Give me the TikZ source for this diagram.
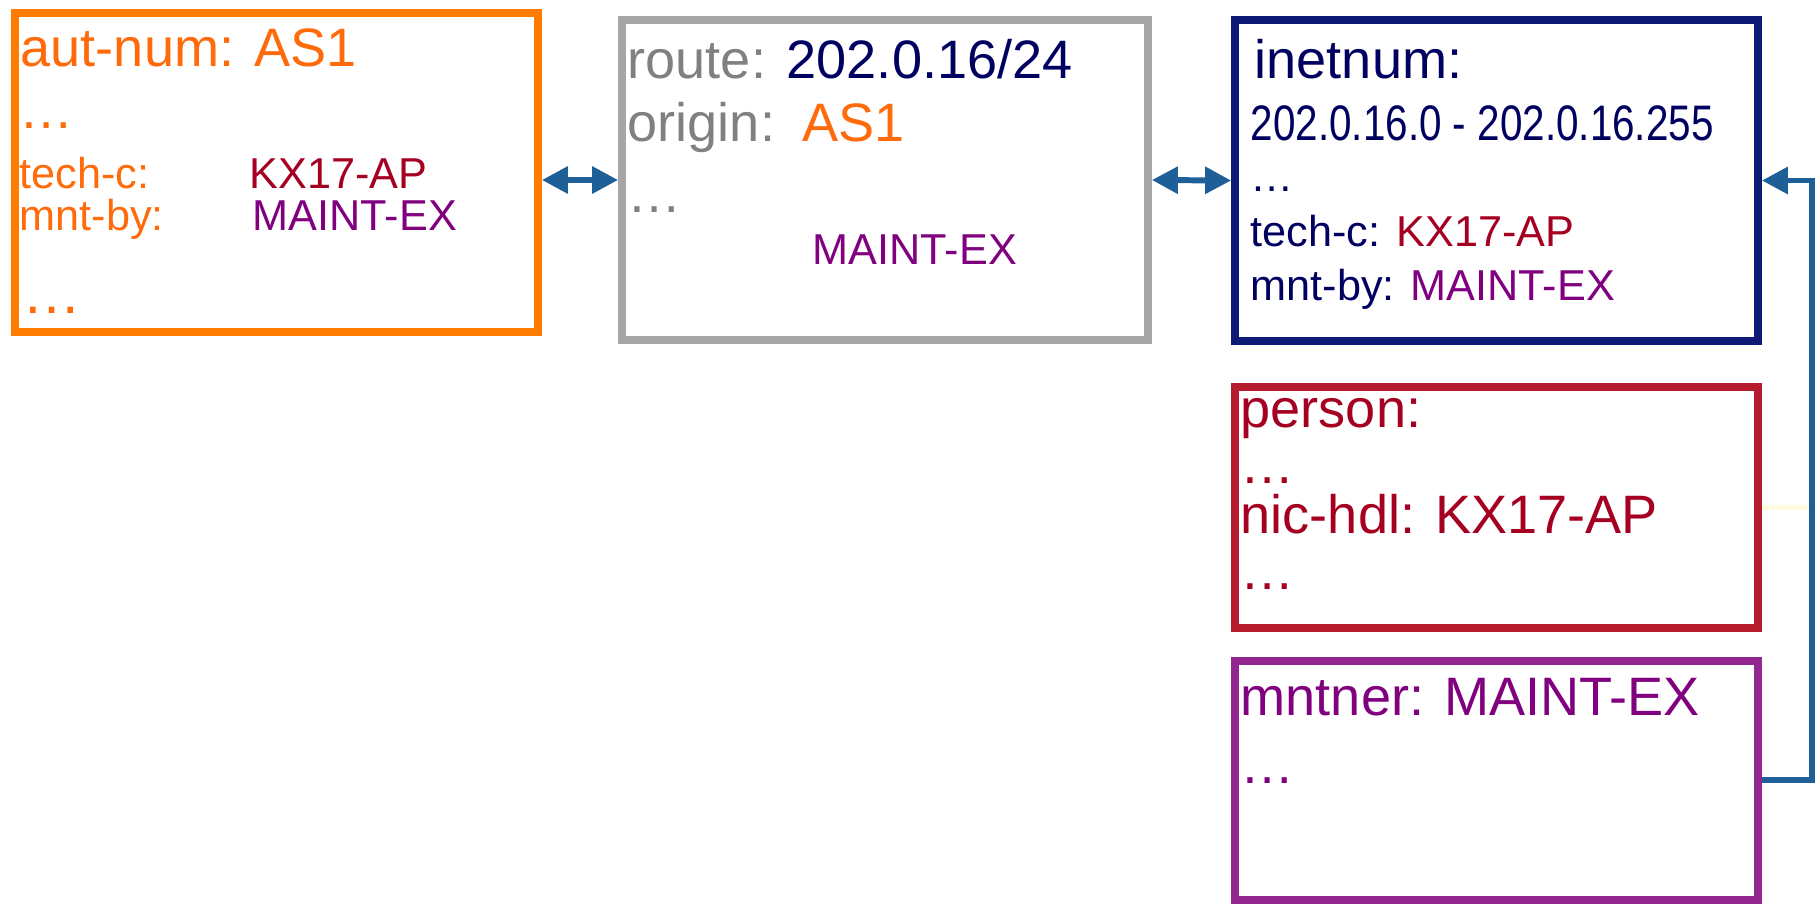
\documentclass[tikz,border=0pt]{standalone}
\usepackage{fontspec}
\setmainfont{Liberation Sans}
\usetikzlibrary{arrows.meta}
\usetikzlibrary{positioning}
\definecolor{asorange}{HTML}{FF7C00}
\definecolor{astext}{HTML}{FF6A0A}
\definecolor{rtgray}{HTML}{A6A6A6}
\definecolor{rttext}{HTML}{808080}
\definecolor{inetnavy}{HTML}{0C1A75}
\definecolor{inettext}{HTML}{000060}
\definecolor{perred}{HTML}{B71B2E}
\definecolor{pertext}{HTML}{A50021}
\definecolor{mntpurple}{HTML}{922790}
\definecolor{mnttext}{HTML}{800080}
\definecolor{linkblue}{HTML}{1F5F98}
\definecolor{faintyellow}{HTML}{FFFBDC}
\tikzset{
  obj/.style={rectangle, minimum width=5.23cm, inner sep=0pt, line width=2.2pt},
  lg/.style={anchor=base west, inner sep=0pt, font=\fontsize{15.4pt}{18pt}\selectfont},
  sm/.style={anchor=base west, inner sep=0pt, font=\fontsize{12.3pt}{15pt}\selectfont},
  dots/.style={text depth=0pt, text height=0.15cm},
  link/.style={draw=linkblue, line width=1.7pt, -{Triangle[length=0.26cm, width=0.26cm]}},
  twoway/.style={link, {Triangle[length=0.26cm, width=0.26cm]}-{Triangle[length=0.26cm, width=0.26cm]}},
  faint/.style={draw=faintyellow, line width=1.4pt}
}
\begin{document}
\begin{tikzpicture}
\useasboundingbox (0,0) rectangle (18.18,-9.06);
% objects
\node[obj, draw=asorange, minimum height=3.19cm] (autnum) at (2.765,-1.725) {};
\node[obj, draw=rtgray, minimum width=5.26cm, minimum height=3.20cm] (route) at (8.85,-1.80) {};
\node[obj, draw=inetnavy, minimum height=3.21cm] (inetnum) at (14.965,-1.805) {};
\node[obj, draw=perred, minimum height=2.41cm, below=0.385cm of inetnum] (person) {};
\node[obj, draw=mntpurple, minimum height=2.39cm, below=0.25cm of person] (mntner) {};

% aut-num
\node[lg, text=astext] (autkey) at (0.20,-0.66) {aut-num: AS1};
\node[lg, dots, text=astext] (autdots) at (0.19,-1.28) {…};
\node[sm, text=astext] (auttech) at (0.19,-1.88) {tech-c:};
\node[sm, text=pertext] (auttechval) at (2.49,-1.88) {KX17-AP};
\node[sm, text=astext] (autmnt) at (0.19,-2.30) {mnt-by:};
\node[sm, text=mnttext] (autmntval) at (2.52,-2.30) {MAINT-EX};
\node[lg, dots, text=astext, font=\fontsize{16.8pt}{20pt}\selectfont] (autend) at (0.22,-3.13) {…};

% route
\node[lg, text=rttext] (routekey) at (6.27,-0.78) {route:};
\node[lg, text=inettext] (routeval) at (7.86,-0.78) {202.0.16/24};
\node[lg, text=rttext] (originkey) at (6.27,-1.41) {origin:};
\node[lg, text=astext] (originval) at (8.02,-1.41) {AS1};
\node[lg, dots, text=rttext] (routedots) at (6.27,-2.12) {…};
\node[sm, text=mnttext] (routemnt) at (8.12,-2.64) {MAINT-EX};

% inetnum
\node[lg, text=inettext] (inetkey) at (12.54,-0.78) {inetnum:};
\node[sm, text=inettext] (inetrange) at (12.50,-1.40) {\scalebox{0.81}[1]{\fontsize{14.2pt}{17pt}\selectfont 202.0.16.0 - 202.0.16.255}};
\node[sm, dots, text=inettext] (inetdots) at (12.50,-1.91) {…};
\node[sm, text=inettext] (inettech) at (12.50,-2.46) {tech-c: \textcolor{pertext}{KX17-AP}};
\node[sm, text=inettext] (inetmnt) at (12.50,-3.00) {mnt-by: \textcolor{mnttext}{MAINT-EX}};

% person
\node[lg, text=pertext] (perkey) at (12.40,-4.27) {person:};
\node[lg, dots, text=pertext] (perdots) at (12.40,-4.83) {…};
\node[lg, text=pertext] (pernic) at (12.40,-5.33) {nic-hdl: KX17-AP};
\node[lg, dots, text=pertext] (perend) at (12.40,-5.89) {…};

% mntner
\node[lg, text=mnttext] (mntkey) at (12.40,-7.15) {mntner: MAINT-EX};
\node[lg, dots, text=mnttext] (mntdots) at (12.40,-7.83) {…};

% links
\draw[twoway] (autnum.east |- route.west) -- (route.west);
\draw[twoway] (route.east) -- (inetnum.west);
\path (mntner.east) -- ++(0.50,0) coordinate (turn);
\draw[faint] (person.east) -- (person.east -| turn);
\draw[link] (mntner.east) -- (turn) |- (inetnum.east);
\end{tikzpicture}
\end{document}
